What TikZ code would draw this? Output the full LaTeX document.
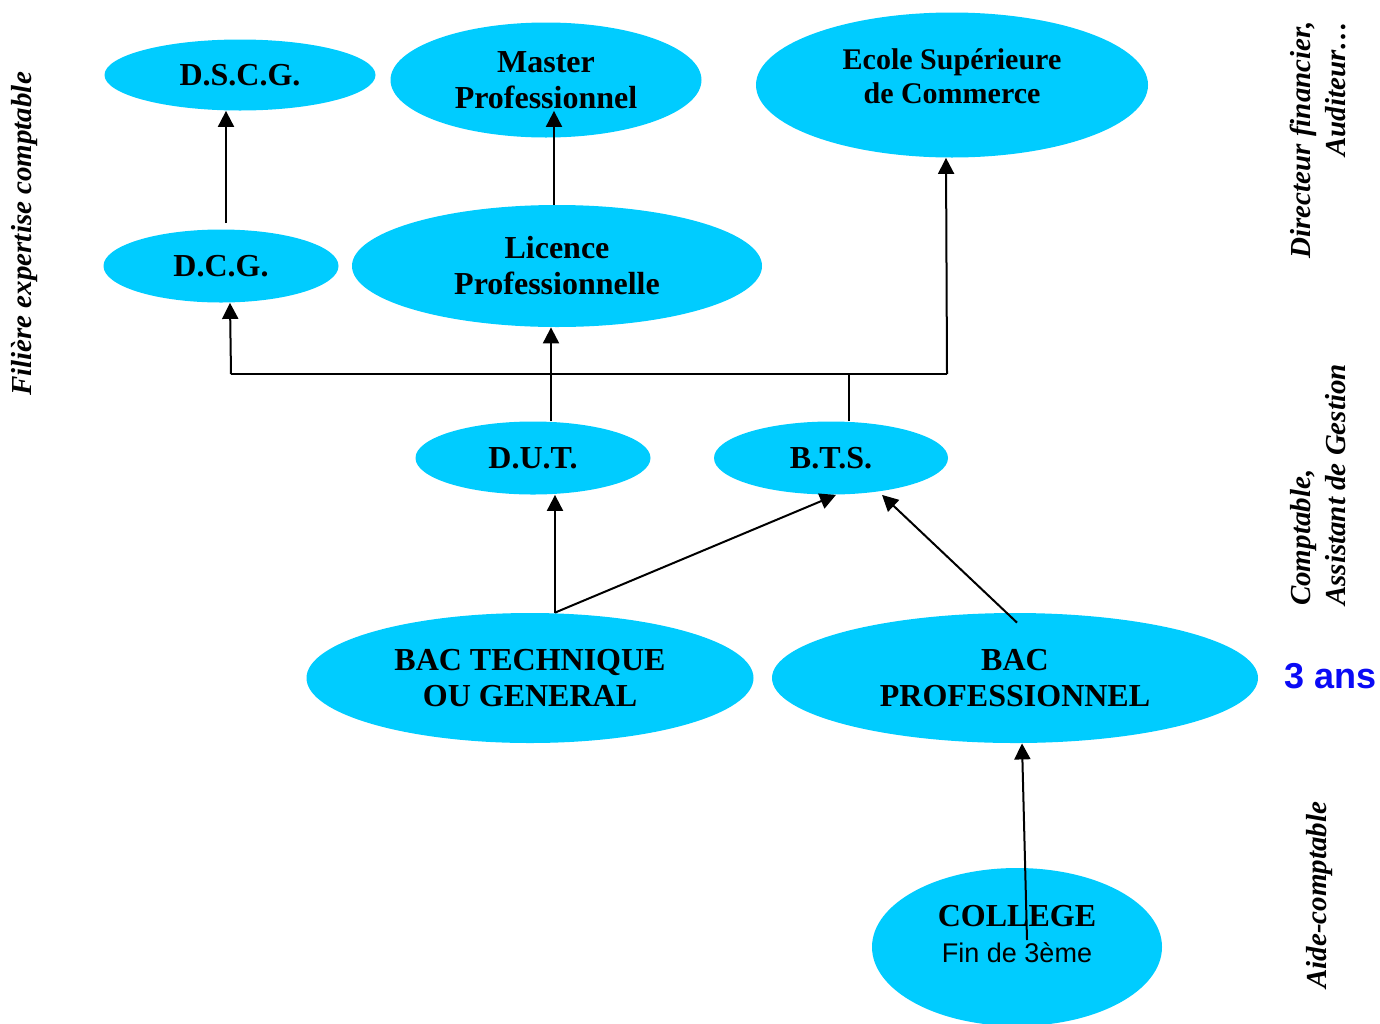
\documentclass[tikz,border=0pt]{standalone}
\usepackage{fontspec}
\setmainfont{Liberation Serif}
\newfontfamily\arialfont{Liberation Sans}
\usetikzlibrary{shapes.geometric,arrows.meta}

\definecolor{cursus}{RGB}{0,204,255}
\definecolor{dureebleu}{RGB}{10,10,245}

\tikzset{
  diplome/.style={ellipse, fill=cursus, inner sep=0pt, align=center,
    font=\bfseries\fontsize{16}{18}\selectfont},
  fleche/.style={-{Triangle[length=8pt,width=8pt]}, line width=1pt},
  trait/.style={line width=1pt},
  metier/.style={rotate=90, font=\bfseries\itshape\fontsize{14.5}{17.5}\selectfont},
}

\begin{document}
\begin{tikzpicture}[x=0.5pt,y=-0.5pt]
	\useasboundingbox (0,0) rectangle (1380,1023);
	% diplomes
	\node[diplome, minimum width=135.5pt, minimum height=35.5pt] (dscg) at (240,75) {D.S.C.G.};
	\node[diplome, minimum width=155.5pt, minimum height=57.5pt] (master) at (546,80) {Master\\Professionnel};
	\node[diplome, minimum width=196pt, minimum height=72.5pt, font=\bfseries\fontsize{15}{17}\selectfont] (esc) at (952,85) {Ecole Supérieure\\de Commerce\\[-8pt]\mbox{}};
	\node[diplome, minimum width=117.5pt, minimum height=36.5pt] (dcg) at (221,266) {D.C.G.};
	\node[diplome, minimum width=205pt, minimum height=61pt] (lic) at (557,266) {Licence\\Professionnelle};
	\node[diplome, minimum width=117.5pt, minimum height=36.5pt] (dut) at (533,458) {D.U.T.};
	\node[diplome, minimum width=117pt, minimum height=36.5pt] (bts) at (831,458) {B.T.S.};
	\node[diplome, minimum width=223.5pt, minimum height=65pt] (bactech) at (530,678) {BAC TECHNIQUE\\OU GENERAL};
	\node[diplome, minimum width=243pt, minimum height=65pt] (bacpro) at (1015,678) {BAC\\PROFESSIONNEL};
	\node[diplome, minimum width=145pt, minimum height=79pt] (college) at (1017,947) {COLLEGE\\{\arialfont\mdseries\fontsize{13.5}{17.5}\selectfont Fin de 3ème}\\[-5pt]\mbox{}};

	% debouches
	\node[metier] (filiere) at (25,234) {Filière expertise comptable};
	\node[metier, align=right] (directeur) at (1318,140) {Directeur financier,\\Auditeur…};
	\node[metier, align=left] (comptable) at (1318,485) {Comptable,\\Assistant de Gestion};
	\node[metier] (aide) at (1320,895) {Aide-comptable};
	\node[font=\arialfont\bfseries\fontsize{18}{20}\selectfont, text=dureebleu] (duree) at (1331,676) {3 ans};

	% liaisons
	\coordinate (jg) at (231,374);
	\coordinate (jd) at (947,374);
	\coordinate (jb) at (849,374);
	\draw[trait] (jg) -- (jd);
	\draw[fleche] ([xshift=2.5pt,yshift=3pt]dcg.north) -- ([xshift=-7pt]dscg.south);
	\draw[fleche] ([xshift=-1.5pt]lic.north) -- ([xshift=4pt,yshift=13.5pt]master.south);
	\draw[fleche] (jg) -- ([xshift=4.5pt]dcg.south);
	\draw[fleche] (jd) -- ([xshift=-3pt]esc.south);
	\draw[fleche] ([xshift=9pt]dut.north) -- ([xshift=-3pt]lic.south);
	\draw[trait] ([xshift=9pt]bts.north) -- (jb);
	\draw[fleche] ([xshift=12.5pt]bactech.north) -- ([xshift=11pt]dut.south);
	\draw[fleche] ([xshift=12.5pt]bactech.north) -- ([xshift=2.5pt]bts.south);
	\draw[fleche] ([xshift=1pt,yshift=-5pt]bacpro.north) -- ([xshift=25.5pt]bts.south);
	\draw[fleche] ([xshift=5pt,yshift=3.5pt]college.center) -- ([xshift=3.5pt]bacpro.south);
\end{tikzpicture}
\end{document}
